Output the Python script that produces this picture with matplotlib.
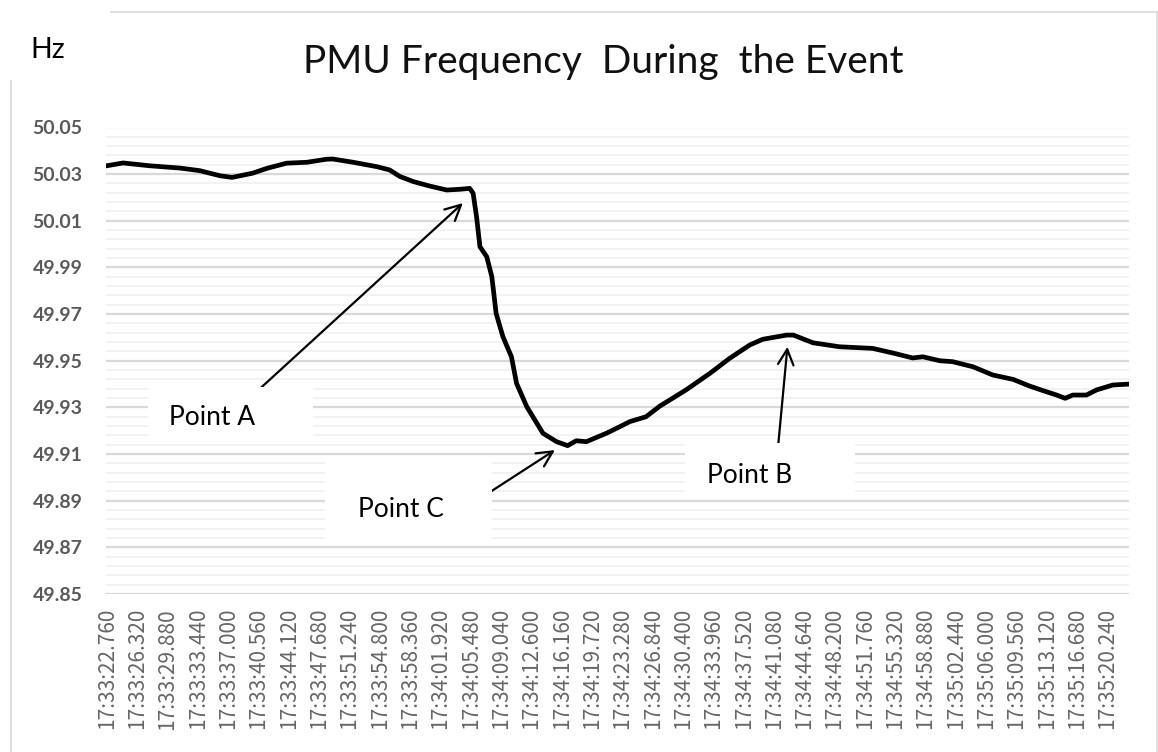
import numpy as np
import matplotlib
matplotlib.use("Agg")
import matplotlib.pyplot as plt
from matplotlib.patches import Rectangle
from matplotlib.ticker import FixedLocator

# PMU frequency readings (seconds after 17:33:22.760, Hz)
t_sec = [0.0, 1.9, 5.0, 8.6, 10.9, 13.3, 14.7, 17.1, 18.8, 21.1, 23.5, 25.8,
         26.5, 28.9, 31.7, 33.2, 34.4, 36.0, 37.9, 39.9, 41.4, 42.6, 43.0,
         43.4, 43.8, 44.6, 45.2, 45.7, 46.5, 47.5, 48.1, 49.3, 51.2, 52.8,
         54.1, 55.1, 56.3, 58.7, 60.2, 61.4, 63.3, 64.9, 68.0, 70.8, 73.1,
         75.5, 77.0, 79.8, 80.6, 82.9, 86.0, 89.9, 92.3, 94.6, 95.8, 97.8,
         99.3, 101.7, 104.0, 106.4, 108.3, 109.9, 111.5, 112.5, 113.4, 115.0,
         116.2, 118.1, 120.0]
freq = [50.0336, 50.0348, 50.0336, 50.0326, 50.0315, 50.0293, 50.0286, 50.0304,
        50.0325, 50.0347, 50.0351, 50.0364, 50.0365, 50.0351, 50.0332, 50.0318,
        50.0290, 50.0268, 50.0249, 50.0232, 50.0235, 50.0239, 50.0218, 50.0118,
        49.9989, 49.9946, 49.9860, 49.9703, 49.9603, 49.9517, 49.9403, 49.9303,
        49.9189, 49.9153, 49.9136, 49.9157, 49.9153, 49.9190, 49.9217, 49.9239,
        49.9260, 49.9305, 49.9375, 49.9446, 49.9510, 49.9568, 49.9592, 49.9610,
        49.9610, 49.9577, 49.9560, 49.9553, 49.9533, 49.9512, 49.9517, 49.9500,
        49.9496, 49.9474, 49.9439, 49.9420, 49.9392, 49.9372, 49.9353, 49.9339,
        49.9353, 49.9353, 49.9375, 49.9396, 49.9400]

time_labels = ["17:33:22.760", "17:33:26.320", "17:33:29.880", "17:33:33.440",
               "17:33:37.000", "17:33:40.560", "17:33:44.120", "17:33:47.680",
               "17:33:51.240", "17:33:54.800", "17:33:58.360", "17:34:01.920",
               "17:34:05.480", "17:34:09.040", "17:34:12.600", "17:34:16.160",
               "17:34:19.720", "17:34:23.280", "17:34:26.840", "17:34:30.400",
               "17:34:33.960", "17:34:37.520", "17:34:41.080", "17:34:44.640",
               "17:34:48.200", "17:34:51.760", "17:34:55.320", "17:34:58.880",
               "17:35:02.440", "17:35:06.000", "17:35:09.560", "17:35:13.120",
               "17:35:16.680", "17:35:20.240"]


def to_sec(s):
    h, m, sec = s.split(":")
    return int(h) * 3600 + int(m) * 60 + float(sec)


tick_pos = [to_sec(s) - to_sec(time_labels[0]) for s in time_labels]

W, H = 1158, 752
fig = plt.figure(figsize=(W / 100, H / 100), dpi=100)
ax = fig.add_axes([106 / W, 1 - 594 / H, (1129 - 106) / W, (594 - 127.5) / H])

ax.plot(t_sec, freq, color="black", lw=3.4, solid_joinstyle="round", zorder=3)

ax.set_xlim(-0.1, 120.0)
ax.set_ylim(49.85, 50.05)
ax.yaxis.set_major_locator(FixedLocator(np.arange(49.85, 50.0501, 0.02)))
ax.yaxis.set_minor_locator(FixedLocator(np.arange(49.85, 50.05, 0.004)))
ax.set_yticklabels(["%.2f" % v for v in np.arange(49.85, 50.0501, 0.02)],
                   fontfamily="Lato", fontweight="bold", fontsize=14, color="#595959")
ax.set_xticks(tick_pos)
ax.set_xticklabels(time_labels, rotation=90, fontfamily="Noto Sans CJK JP",
                   fontsize=15, color="#666666")
ax.tick_params(axis="both", which="both", length=0)
ax.tick_params(axis="y", pad=17)
ax.tick_params(axis="x", pad=10)
ax.grid(axis="y", which="major", color="#d9d9d9", lw=1.6)
ax.grid(axis="y", which="minor", color="#f0f0f0", lw=1.2)
for sp in ax.spines.values():
    sp.set_visible(False)


def fx(x):
    return x / W


def fy(y):
    return 1 - y / H


# outer chart frame, with the Hz box covering its corner
fig.add_artist(Rectangle((fx(11), fy(760)), fx(1157) - fx(11), fy(12) - fy(760),
                         transform=fig.transFigure, fill=False, ec="#d9d9d9", lw=1.2))
fig.add_artist(Rectangle((fx(0), fy(80)), fx(110), fy(0) - fy(80),
                         transform=fig.transFigure, fc="white", ec="none", zorder=2))
fig.text(fx(30), fy(58), "Hz", fontfamily="Lato", fontsize=20.5, color="black",
         va="baseline", zorder=3)

fig.text(fx(303), fy(73), "PMU Frequency  During  the Event", fontfamily="Lato",
         fontsize=28, color="#111111", ha="left", va="baseline")

# annotation boxes: (box x0, y0, x1, y1, text x, baseline)
notes = [("Point A", (148, 387, 313, 437), (169, 425)),
         ("Point C", (325, 456, 492, 540), (358, 517)),
         ("Point B", (685, 443, 855, 493), (707, 483))]
for label, (x0, y0, x1, y1), (tx, ty) in notes:
    fig.add_artist(Rectangle((fx(x0), fy(y1)), fx(x1) - fx(x0), fy(y0) - fy(y1),
                             transform=fig.transFigure, fc="white", ec="none", zorder=2))
    fig.text(fx(tx), fy(ty), label, fontfamily="Lato", fontsize=19, color="black",
             va="baseline", zorder=3)

# arrows: tip in data coordinates, tail in figure pixels
arrows = [((41.8, 50.0176), (253, 395)),
          ((52.6, 49.9117), (470, 505)),
          ((79.9, 49.9560), (777, 458))]
for tip, (tx, ty) in arrows:
    ax.annotate("", xy=tip, xycoords="data", xytext=(fx(tx), fy(ty)),
                textcoords="figure fraction",
                arrowprops=dict(arrowstyle="->", color="black", lw=1.6,
                                mutation_scale=28, shrinkA=0, shrinkB=0),
                zorder=4, annotation_clip=False)

fig.savefig("out.png", dpi=100)
